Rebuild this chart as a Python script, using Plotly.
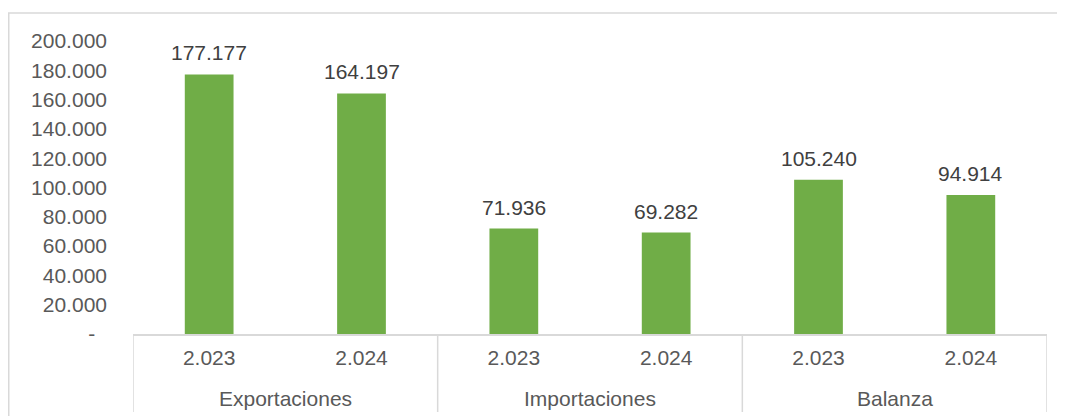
import plotly.graph_objects as go

group_names = ["Exportaciones", "Importaciones", "Balanza"]
groups = ["Exportaciones", "Exportaciones", "Importaciones", "Importaciones", "Balanza", "Balanza"]
years = ["2.023", "2.024", "2.023", "2.024", "2.023", "2.024"]
values = [177177, 164197, 71936, 69282, 105240, 94914]

y_tickvals = [0, 20000, 40000, 60000, 80000, 100000, 120000, 140000, 160000, 180000, 200000]
y_ticktext = ["-\u00a0\u00a0", "20.000", "40.000", "60.000", "80.000", "100.000", "120.000",
              "140.000", "160.000", "180.000", "200.000"]

FONT = "Arial, Liberation Sans, sans-serif"
GRID = "#D9D9D9"

cats = [f"{g} {y}" for g, y in zip(groups, years)]

fig = go.Figure(
    go.Bar(
        x=cats,
        y=values,
        marker=dict(color="#70AD47", line=dict(width=0)),
        width=0.32,
        hoverinfo="x+y",
    )
)

W, H = 1057, 408
L, R, T, B = 125, 18, 33, 82
ph = H - T - B
pw = W - L - R

annotations = []
for c, v in zip(cats, values):
    annotations.append(dict(
        x=c, y=v, xref="x", yref="y",
        text=f"{v:,}".replace(",", "."),
        showarrow=False, yanchor="bottom", yshift=8,
        font=dict(family=FONT, size=21, color="#404040"),
    ))
for i, g in enumerate(group_names):
    annotations.append(dict(
        x=2 * i + 0.5, y=-64 / ph, xref="x", yref="paper",
        text=g, showarrow=False, yanchor="middle",
        font=dict(family=FONT, size=21, color="#595959"),
    ))

shapes = [
    dict(
        type="rect", xref="paper", yref="paper",
        x0=(0.75 - L) / pw, x1=1.2, y0=-0.5, y1=(T + ph - 5) / ph,
        line=dict(color=GRID, width=1.5), fillcolor="rgba(0,0,0,0)",
        layer="below",
    )
]
for xd in [-0.5, 1.5, 3.5, 5.5]:
    shapes.append(dict(
        type="line", xref="x", yref="paper",
        x0=xd, x1=xd, y0=0, y1=-78 / ph,
        line=dict(color=GRID, width=1.5),
    ))

fig.update_layout(
    width=W,
    height=H,
    margin=dict(l=L, r=R, t=T, b=B),
    paper_bgcolor="white",
    plot_bgcolor="white",
    showlegend=False,
    font=dict(family=FONT, size=21, color="#595959"),
    xaxis=dict(
        type="category",
        range=[-0.5, 5.5],
        tickvals=cats,
        ticktext=years,
        showline=True,
        linecolor=GRID,
        linewidth=1.5,
        showgrid=False,
        ticks="",
        ticklabelstandoff=4,
        tickfont=dict(family=FONT, size=21, color="#595959"),
    ),
    yaxis=dict(
        range=[0, 200000],
        tickvals=y_tickvals,
        ticktext=y_ticktext,
        showgrid=False,
        zeroline=False,
        showline=False,
        ticks="",
        tickfont=dict(family=FONT, size=21, color="#595959"),
        ticklabelstandoff=25,
    ),
    annotations=annotations,
    shapes=shapes,
)

fig.write_html("out.html")
